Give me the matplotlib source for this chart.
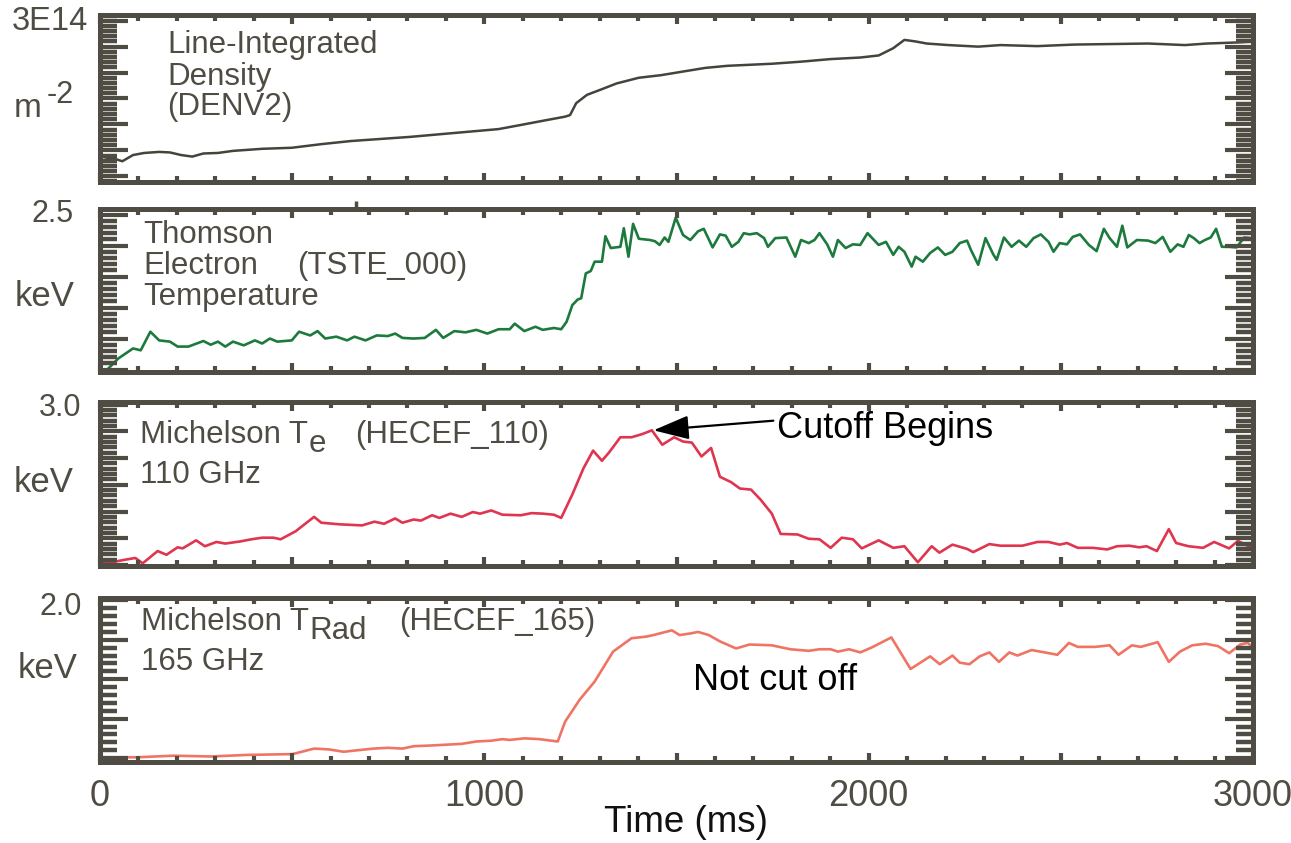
import numpy as np
import matplotlib
matplotlib.use("Agg")
import matplotlib.pyplot as plt
from matplotlib.ticker import MultipleLocator

plt.rcParams['font.family'] = ['Liberation Sans', 'DejaVu Sans']

FRAME = '#4f4c44'
W, H = 1291, 843

# --- data (time in ms) ---
t_den = [0, 29, 58, 86, 115, 154, 182, 211, 240, 269, 307, 346, 422, 499, 576, 653,
         730, 807, 883, 960, 1037, 1095, 1152, 1210, 1223, 1239, 1267, 1306, 1344,
         1402, 1460, 1517, 1575, 1632, 1690, 1748, 1824, 1901, 1978, 2026, 2064,
         2093, 2122, 2151, 2208, 2285, 2343, 2439, 2535, 2631, 2727, 2823, 2880,
         2957, 3000]
den = [0.28, 0.36, 0.29, 0.41, 0.45, 0.47, 0.46, 0.41, 0.38, 0.44, 0.45, 0.49, 0.53,
       0.55, 0.62, 0.68, 0.72, 0.76, 0.81, 0.86, 0.91, 0.99, 1.07, 1.15, 1.18, 1.41,
       1.57, 1.68, 1.79, 1.90, 1.95, 2.02, 2.09, 2.13, 2.15, 2.17, 2.21, 2.26, 2.29,
       2.33, 2.47, 2.63, 2.60, 2.56, 2.53, 2.50, 2.53, 2.51, 2.54, 2.55, 2.56, 2.53,
       2.56, 2.58, 2.60]

t_ts = [0, 19, 48, 86, 106, 131, 154, 182, 202, 230, 269, 288, 307, 326, 346, 374,
        403, 422, 442, 461, 499, 518, 547, 566, 586, 615, 643, 662, 691, 720, 749,
        768, 787, 816, 845, 874, 893, 922, 951, 979, 1008, 1037, 1066, 1079, 1104,
        1133, 1152, 1181, 1200, 1214, 1229, 1243, 1252, 1264, 1277, 1287, 1306, 1315,
        1329, 1354, 1363, 1375, 1387, 1402, 1431, 1444, 1456, 1469, 1479, 1498, 1517,
        1536, 1556, 1571, 1594, 1613, 1628, 1644, 1661, 1675, 1690, 1709, 1728, 1738,
        1757, 1786, 1809, 1824, 1844, 1859, 1872, 1892, 1907, 1920, 1940, 1959, 1978,
        1997, 2026, 2045, 2064, 2078, 2093, 2112, 2122, 2141, 2160, 2180, 2199, 2218,
        2237, 2256, 2266, 2285, 2304, 2324, 2333, 2352, 2372, 2391, 2410, 2429, 2448,
        2468, 2481, 2497, 2516, 2531, 2550, 2573, 2593, 2612, 2627, 2646, 2660, 2673,
        2698, 2727, 2746, 2765, 2785, 2804, 2819, 2833, 2846, 2861, 2875, 2890, 2904,
        2919, 2938, 2957, 2977, 2996]
te_ts = [0.0, 0.0, 0.18, 0.34, 0.31, 0.61, 0.47, 0.45, 0.37, 0.37, 0.46, 0.40, 0.45,
         0.37, 0.45, 0.39, 0.47, 0.42, 0.50, 0.45, 0.47, 0.61, 0.55, 0.62, 0.50, 0.53,
         0.47, 0.53, 0.47, 0.55, 0.54, 0.58, 0.51, 0.50, 0.51, 0.64, 0.51, 0.62, 0.60,
         0.64, 0.58, 0.65, 0.65, 0.74, 0.62, 0.69, 0.64, 0.67, 0.65, 0.77, 1.04, 1.13,
         1.15, 1.55, 1.59, 1.74, 1.74, 2.15, 1.96, 1.98, 2.28, 1.82, 2.35, 2.11, 2.09,
         2.07, 2.01, 2.13, 2.06, 2.45, 2.17, 2.09, 2.23, 2.27, 1.97, 2.18, 2.16, 1.98,
         2.06, 2.20, 2.18, 2.20, 2.12, 1.98, 2.12, 2.13, 1.82, 2.09, 2.04, 2.09, 2.20,
         2.02, 1.82, 2.09, 1.96, 2.02, 2.01, 2.20, 2.01, 2.06, 1.85, 1.98, 1.90, 1.66,
         1.82, 1.74, 1.88, 1.97, 1.85, 1.90, 2.04, 2.08, 1.93, 1.69, 2.12, 1.86, 1.77,
         2.13, 1.98, 2.08, 1.98, 2.12, 2.18, 2.06, 1.90, 2.04, 2.02, 2.14, 2.18, 2.01,
         1.91, 2.27, 2.12, 1.98, 2.32, 1.97, 2.09, 2.08, 2.04, 2.14, 1.90, 2.02, 1.98,
         2.17, 2.12, 2.04, 2.09, 2.13, 2.27, 1.98, 1.98, 1.97, 2.13, 2.12]

t_110 = [0, 38, 67, 92, 111, 150, 173, 202, 215, 250, 273, 303, 326, 365, 394, 422,
         451, 470, 509, 557, 576, 624, 682, 714, 739, 768, 787, 816, 835, 864, 883,
         912, 941, 970, 989, 1018, 1047, 1095, 1123, 1152, 1181, 1200, 1229, 1258,
         1283, 1306, 1325, 1354, 1383, 1411, 1436, 1463, 1494, 1517, 1540, 1565, 1590,
         1613, 1642, 1665, 1694, 1719, 1748, 1771, 1815, 1844, 1872, 1901, 1930, 1959,
         1982, 2026, 2064, 2093, 2128, 2164, 2184, 2218, 2256, 2272, 2314, 2343, 2400,
         2439, 2468, 2497, 2516, 2544, 2583, 2621, 2646, 2678, 2704, 2723, 2750, 2781,
         2800, 2832, 2870, 2899, 2938, 2961, 2996]
te_110 = [0.04, 0.06, 0.10, 0.13, 0.03, 0.26, 0.19, 0.33, 0.31, 0.46, 0.35, 0.43,
          0.40, 0.44, 0.48, 0.51, 0.51, 0.48, 0.63, 0.90, 0.79, 0.76, 0.74, 0.81, 0.77,
          0.87, 0.79, 0.85, 0.83, 0.93, 0.88, 0.96, 0.90, 0.99, 0.96, 1.02, 0.94, 0.93,
          0.97, 0.96, 0.94, 0.88, 1.32, 1.81, 2.14, 1.95, 2.11, 2.39, 2.39, 2.45, 2.52,
          2.25, 2.39, 2.31, 2.29, 2.03, 2.19, 1.65, 1.55, 1.43, 1.41, 1.22, 0.96, 0.58,
          0.57, 0.49, 0.48, 0.32, 0.51, 0.48, 0.31, 0.46, 0.32, 0.35, 0.05, 0.35, 0.23,
          0.38, 0.30, 0.24, 0.39, 0.36, 0.36, 0.43, 0.43, 0.38, 0.41, 0.32, 0.32, 0.29,
          0.35, 0.36, 0.33, 0.35, 0.26, 0.67, 0.41, 0.35, 0.32, 0.43, 0.31, 0.45, 0.32]

t_165 = [0, 96, 192, 288, 384, 499, 509, 557, 595, 634, 672, 711, 749, 787, 816, 864,
         903, 941, 979, 1018, 1047, 1066, 1104, 1143, 1191, 1210, 1248, 1287, 1335,
         1383, 1421, 1440, 1488, 1508, 1536, 1556, 1584, 1613, 1655, 1690, 1748, 1796,
         1844, 1872, 1901, 1920, 1949, 1978, 2007, 2059, 2109, 2160, 2185, 2218, 2237,
         2262, 2289, 2314, 2339, 2366, 2387, 2424, 2458, 2491, 2521, 2544, 2589, 2627,
         2650, 2685, 2708, 2752, 2781, 2810, 2842, 2877, 2909, 2938, 2967, 2986, 3000]
te_165 = [0.01, 0.01, 0.03, 0.02, 0.04, 0.05, 0.06, 0.12, 0.11, 0.08, 0.10, 0.12,
          0.13, 0.12, 0.15, 0.16, 0.17, 0.18, 0.21, 0.22, 0.24, 0.23, 0.25, 0.24, 0.21,
          0.46, 0.74, 0.97, 1.35, 1.52, 1.54, 1.56, 1.62, 1.56, 1.58, 1.60, 1.56, 1.48,
          1.39, 1.44, 1.43, 1.38, 1.36, 1.38, 1.38, 1.35, 1.38, 1.34, 1.40, 1.53, 1.13,
          1.29, 1.19, 1.30, 1.21, 1.19, 1.29, 1.34, 1.22, 1.34, 1.30, 1.37, 1.34, 1.31,
          1.46, 1.41, 1.41, 1.43, 1.31, 1.43, 1.41, 1.47, 1.22, 1.35, 1.43, 1.45, 1.42,
          1.33, 1.44, 1.46, 1.41]

x_ticklabels = ['0', '1000', '2000', '3000']
x_tickvals = [0, 1000, 2000, 3000]
cutoff_tip = (1440, 2.52)
cutoff_tail = (1752, 2.70)
stray_tick_t = 667


def px(x, y):
    return x / W, 1 - y / H


fig = plt.figure(figsize=(W / 100, H / 100), dpi=100)

# panel boxes in pixels: (top, bottom)
boxes = [(15, 182), (209, 372), (402, 566), (598, 762)]
ylims = [(-0.11, 3.11), (-0.04, 2.59), (-0.02, 3.05), (-0.05, 2.03)]
series = [(t_den, den, '#46433d', 1.8),
          (t_ts, te_ts, '#1d7a3d', 1.9),
          (t_110, te_110, '#e0354f', 1.9),
          (t_165, te_165, '#f07464', 1.9)]

axes = []
for (top, bot), yl, (tx, ty, col, lw) in zip(boxes, ylims, series):
    ax = fig.add_axes([100 / W, 1 - bot / H, 1153 / W, (bot - top) / H])
    ax.plot(tx, ty, color=col, lw=lw, zorder=1)
    ax.set_xlim(0, 3000)
    ax.set_ylim(*yl)
    ax.xaxis.set_major_locator(MultipleLocator(500))
    ax.xaxis.set_minor_locator(MultipleLocator(100))
    ax.yaxis.set_major_locator(MultipleLocator(0.5))
    ax.yaxis.set_minor_locator(MultipleLocator(0.1))
    ax.tick_params(axis='y', which='major', direction='in', length=20, width=3,
                   left=True, right=True, color=FRAME, labelleft=False)
    ax.tick_params(axis='y', which='minor', direction='in', length=12, width=3.2,
                   left=True, right=True, color=FRAME)
    ax.tick_params(axis='x', which='major', direction='in', length=6.5, width=3,
                   top=True, bottom=True, color=FRAME, labelbottom=False)
    ax.tick_params(axis='x', which='minor', direction='in', length=4.3, width=3,
                   top=True, bottom=True, color=FRAME)
    for s in ax.spines.values():
        s.set_linewidth(3.6)
        s.set_color(FRAME)
        s.set_zorder(5)
    axes.append(ax)

ax1, ax2, ax3, ax4 = axes

# small stray tick above the Thomson panel
ax2.plot([stray_tick_t, stray_tick_t], [1.0, 1.05], color=FRAME, lw=2.5,
         transform=ax2.get_xaxis_transform(), clip_on=False, solid_capstyle='butt')

GRAY = dict(color=FRAME)

# left-side value labels
fig.text(*px(50, 22), '3E14', ha='center', va='center', fontsize=23.5, **GRAY)
fig.text(*px(14, 117), 'm', ha='left', va='baseline', fontsize=24, **GRAY)
fig.text(*px(47, 103), '-2', ha='left', va='baseline', fontsize=22, **GRAY)
fig.text(*px(53, 214), '2.5', ha='center', va='center', fontsize=22, **GRAY)
fig.text(*px(45, 297), 'keV', ha='center', va='center', fontsize=25, **GRAY)
fig.text(*px(60, 408), '3.0', ha='center', va='center', fontsize=22, **GRAY)
fig.text(*px(44, 482), 'keV', ha='center', va='center', fontsize=25, **GRAY)
fig.text(*px(61, 607), '2.0', ha='center', va='center', fontsize=22, **GRAY)
fig.text(*px(48, 668), 'keV', ha='center', va='center', fontsize=25, **GRAY)

FS = 22.5
# panel 1
fig.text(*px(167, 53), 'Line-Integrated', fontsize=FS, va='baseline', **GRAY)
fig.text(*px(167, 85), 'Density', fontsize=FS, va='baseline', **GRAY)
fig.text(*px(167, 115), '(DENV2)', fontsize=FS, va='baseline', **GRAY)
# panel 2
fig.text(*px(143, 243), 'Thomson', fontsize=FS, va='baseline', **GRAY)
fig.text(*px(143, 274), 'Electron', fontsize=FS, va='baseline', **GRAY)
fig.text(*px(297, 274), '(TSTE_000)', fontsize=FS, va='baseline', **GRAY)
fig.text(*px(143, 305), 'Temperature', fontsize=FS, va='baseline', **GRAY)
# panel 3
t3 = fig.text(*px(140, 443), 'Michelson T', fontsize=FS, va='baseline', **GRAY)
fig.text(*px(140, 483), '110 GHz', fontsize=FS, va='baseline', **GRAY)
fig.text(*px(355, 443), '(HECEF_110)', fontsize=FS, va='baseline', **GRAY)
ax3.annotate('e', xy=(1, 0), xycoords=t3, xytext=(0.5, -1.2), textcoords='offset points',
             ha='left', va='baseline', fontsize=FS, **GRAY)
# panel 4
t4 = fig.text(*px(141, 630), 'Michelson T', fontsize=FS, va='baseline', **GRAY)
fig.text(*px(141, 670), '165 GHz', fontsize=FS, va='baseline', **GRAY)
fig.text(*px(399, 630), '(HECEF_165)', fontsize=FS, va='baseline', **GRAY)
ax4.annotate('Rad', xy=(1, 0), xycoords=t4, xytext=(0.5, -1.2), textcoords='offset points',
             ha='left', va='baseline', fontsize=FS, **GRAY)

# annotations
ax3.annotate('', xy=cutoff_tip, xytext=cutoff_tail,
             arrowprops=dict(arrowstyle='-|>,head_length=1.1,head_width=0.37',
                             mutation_scale=20, color='black', lw=1.6,
                             shrinkA=0, shrinkB=0))
fig.text(*px(777, 438), 'Cutoff Begins', fontsize=26, va='baseline', color='black')
fig.text(*px(693, 690), 'Not cut off', fontsize=26, va='baseline', color='black')

# bottom time labels
for v, lab in zip(x_tickvals, x_ticklabels):
    ax4.text(v, -0.27, lab, transform=ax4.get_xaxis_transform(), ha='center',
             va='baseline', fontsize=26, **GRAY)
fig.text(*px(686, 823), 'Time (ms)', ha='center', va='center', fontsize=26.5, color='#111111')

fig.savefig('out.png', dpi=100)
